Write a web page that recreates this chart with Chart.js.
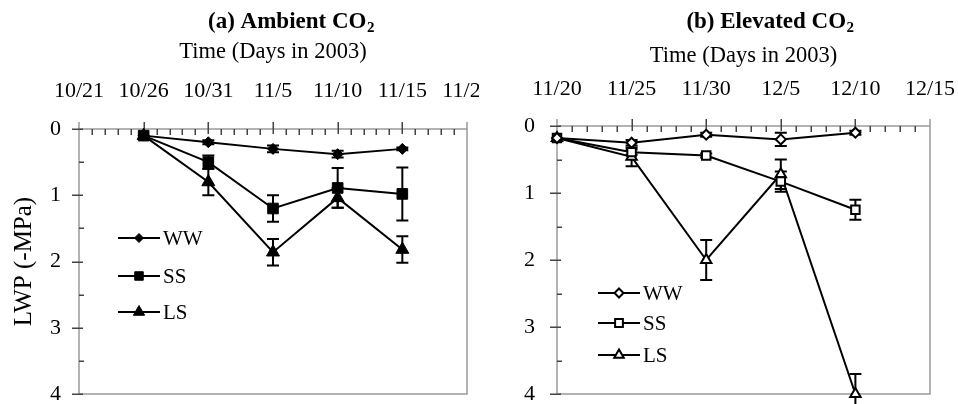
<!DOCTYPE html>
<html>
<head>
<meta charset="utf-8">
<script src="https://cdn.jsdelivr.net/npm/chart.js@4.4.1/dist/chart.umd.min.js"></script>
<style>
html,body{margin:0;padding:0;background:#fff;overflow:hidden}
#wrap{position:relative;width:958px;height:404px;background:#fff}
canvas{position:absolute;top:0}
#ca{left:0}
#cb{left:479px}
</style>
</head>
<body>
<div id="wrap">
<canvas id="ca" width="479" height="404"></canvas>
<canvas id="cb" width="479" height="404"></canvas>
</div>
<script>
// ---------- data ----------
const seriesNames = ['WW', 'SS', 'LS'];
const panelTitles = ['(a) Ambient CO', '(b) Elevated CO'];
const titleSubscript = '2';
const xAxisTitle = 'Time (Days in 2003)';
const yAxisTitle = 'LWP (-MPa)';

const tickLabelsA = ['10/21', '10/26', '10/31', '11/5', '11/10', '11/15', '11/20'];
const tickLabelsB = ['11/20', '11/25', '11/30', '12/5', '12/10', '12/15'];

// days after first tick date (10/21 for a, 11/20 for b)
const daysA = [5, 10, 15, 20, 25];
const wwA = [0.1, 0.2, 0.3, 0.38, 0.3];
const ssA = [0.1, 0.5, 1.2, 0.89, 0.98];
const lsA = [0.1, 0.8, 1.86, 1.04, 1.82];
const wwErrA = [0, 0.03, 0.05, 0.05, 0.02];
const ssErrA = [0, 0.1, 0.2, 0.3, 0.4];
const lsErrA = [0, 0.2, 0.2, 0.15, 0.2];

const daysB = [0, 5, 10, 15, 20];
const wwB = [0.18, 0.25, 0.13, 0.2, 0.1];
const ssB = [0.18, 0.39, 0.44, 0.83, 1.25];
const lsB = [0.18, 0.46, 2.0, 0.72, 4.0];
const wwErrB = [0, 0.04, 0.03, 0.1, 0.03];
const ssErrB = [0, 0.04, 0.03, 0.15, 0.15];
const lsErrB = [0, 0.14, 0.3, 0.22, 0.3];

// ---------- styling ----------
const FONT = '"Liberation Serif", "Times New Roman", serif';
const pointStyles = ['rectRot', 'rect', 'triangle'];

function drawMarker(ctx, style, cx, cy, r, fill, lw) {
  ctx.beginPath();
  if (style === 'rect') {
    const s = r * Math.SQRT1_2;
    ctx.rect(cx - s, cy - s, 2 * s, 2 * s);
  } else if (style === 'rectRot') {
    ctx.moveTo(cx, cy - r); ctx.lineTo(cx + r, cy); ctx.lineTo(cx, cy + r); ctx.lineTo(cx - r, cy);
    ctx.closePath();
  } else {
    for (let k = 0; k < 3; k++) {
      const a = k * 2 * Math.PI / 3;
      const px = cx + Math.sin(a) * r, py = cy - Math.cos(a) * r;
      if (k === 0) ctx.moveTo(px, py); else ctx.lineTo(px, py);
    }
    ctx.closePath();
  }
  ctx.fillStyle = fill; ctx.fill();
  ctx.lineWidth = lw; ctx.strokeStyle = '#000'; ctx.stroke();
}

const framePlugin = {
  id: 'frame',
  beforeDatasetsDraw(chart, args, opts) {
    const {ctx, chartArea: a, scales: {x, y}} = chart;
    ctx.save();
    // frame
    ctx.strokeStyle = '#9a9a9a';
    ctx.lineWidth = 1.5;
    ctx.beginPath();
    ctx.moveTo(a.left, a.top - 7); ctx.lineTo(a.left, a.bottom); ctx.lineTo(a.right, a.bottom);
    ctx.lineTo(a.right, a.top - 7);
    ctx.moveTo(a.left, a.top); ctx.lineTo(a.right, a.top);
    ctx.stroke();
    // x ticks: major every 5 days (crossing), minor every day (inside)
    ctx.strokeStyle = '#444';
    ctx.lineWidth = 1.5;
    ctx.beginPath();
    for (let d = x.min; d <= x.max; d++) {
      const px = Math.round(x.getPixelForValue(d)) + 0.25;
      if (d % 5 === 0) {
        if (d === x.min || d === x.max) continue;
        ctx.moveTo(px, a.top - 7); ctx.lineTo(px, a.top + 5);
      } else {
        ctx.moveTo(px, a.top); ctx.lineTo(px, a.top + 6);
      }
    }
    // y ticks: major each unit (crossing), minor each half (inside)
    for (let v = y.min; v <= y.max + 1e-9; v += 0.5) {
      const py = Math.round(y.getPixelForValue(v)) + 0.25;
      if (Math.abs(v - Math.round(v)) < 1e-9) {
        ctx.moveTo(a.left - 7, py); ctx.lineTo(a.left + 4, py);
      } else {
        ctx.moveTo(a.left, py); ctx.lineTo(a.left + 5, py);
      }
    }
    ctx.stroke();
    // error bars
    ctx.strokeStyle = '#000';
    ctx.lineWidth = 2;
    chart.data.datasets.forEach((ds) => {
      ds.errors.forEach((e, j) => {
        if (!e) return;
        const pt = ds.data[j];
        const px = x.getPixelForValue(pt.x);
        const y1 = y.getPixelForValue(pt.y - e);
        const y2 = y.getPixelForValue(pt.y + e);
        const cw = opts.cap;
        ctx.beginPath();
        ctx.moveTo(px, y1); ctx.lineTo(px, y2);
        ctx.moveTo(px - cw, y1); ctx.lineTo(px + cw, y1);
        ctx.moveTo(px - cw, y2); ctx.lineTo(px + cw, y2);
        ctx.stroke();
      });
    });
    ctx.restore();
  },
  afterDraw(chart, args, opts) {
    const {ctx} = chart;
    ctx.save();
    // panel title with subscript
    ctx.fillStyle = '#000';
    ctx.textBaseline = 'alphabetic';
    ctx.textAlign = 'left';
    ctx.font = 'bold 23px ' + FONT;
    const w1 = ctx.measureText(opts.title).width;
    ctx.font = 'bold 15px ' + FONT;
    const w2 = ctx.measureText(titleSubscript).width;
    const x0 = opts.titleX - (w1 + w2) / 2;
    ctx.font = 'bold 23px ' + FONT;
    ctx.fillText(opts.title, x0, 28);
    ctx.font = 'bold 15px ' + FONT;
    ctx.fillText(titleSubscript, x0 + w1 + 0.5, 32);
    // legend
    ctx.font = '21px ' + FONT;
    ctx.textBaseline = 'middle';
    chart.data.datasets.forEach((ds, i) => {
      const ly = opts.legendRows[i];
      ctx.strokeStyle = '#000';
      ctx.lineWidth = 2;
      ctx.beginPath();
      ctx.moveTo(opts.legendX1, ly); ctx.lineTo(opts.legendX2, ly);
      ctx.stroke();
      drawMarker(ctx, ds.pointStyle, (opts.legendX1 + opts.legendX2) / 2, ly,
        opts.legendRadii[i], ds.pointBackgroundColor, ds.pointBorderWidth);
      ctx.fillStyle = '#000';
      ctx.fillText(ds.label, opts.legendX2 + 3, ly + 1);
    });
    ctx.restore();
  }
};

function makeDatasets(days, vals, errs, filled, radii) {
  return seriesNames.map((name, i) => ({
    label: name,
    data: days.map((d, j) => ({x: d, y: vals[i][j]})),
    errors: errs[i],
    borderColor: '#000',
    borderWidth: 2,
    pointStyle: pointStyles[i],
    pointRadius: radii[i],
    pointHoverRadius: radii[i],
    pointBackgroundColor: filled ? '#000' : '#fff',
    pointBorderColor: '#000',
    pointBorderWidth: filled ? 1 : 2,
    tension: 0,
    fill: false,
    clip: false
  }));
}

function makeChart(id, p) {
  return new Chart(document.getElementById(id), {
    type: 'line',
    data: {datasets: makeDatasets(p.days, p.vals, p.errs, p.filled, p.radii)},
    options: {
      responsive: false,
      animation: false,
      events: [],
      layout: {padding: {left: 0, right: p.padRight, top: 0, bottom: 10}},
      plugins: {
        legend: {display: false},
        tooltip: {enabled: false},
        title: {display: false},
        frame: {
          title: p.title, titleX: 291, cap: p.cap,
          legendX1: p.legendX1, legendX2: p.legendX2,
          legendRows: p.legendRows, legendRadii: p.legendRadii
        }
      },
      scales: {
        x: {
          type: 'linear', position: 'top', min: 0, max: p.xmax,
          grid: {display: false, drawTicks: false},
          border: {display: false},
          ticks: {
            stepSize: 5, autoSkip: false, maxRotation: 0, padding: p.xTickPad,
            color: '#000', font: {family: FONT, size: 22},
            callback: (v) => p.labels[Math.round(v / 5)]
          },
          title: {
            display: true, text: xAxisTitle, color: '#000',
            font: {family: FONT, size: 22.5}, padding: {top: p.xTitlePad, bottom: 0}
          },
          afterFit(s) { s.height = p.xh; s.paddingLeft = 0; s.paddingRight = 0; }
        },
        y: {
          type: 'linear', reverse: true, min: 0, max: 4,
          grid: {display: false, drawTicks: false},
          border: {display: false},
          ticks: {
            stepSize: 1, padding: p.yTickPad, color: '#000',
            font: {family: FONT, size: 22}
          },
          title: {
            display: p.yTitle, text: yAxisTitle, color: '#000',
            font: {family: FONT, size: 25}, padding: {top: 9, bottom: 0}
          },
          afterFit(s) { s.width = p.yw; s.paddingTop = 0; s.paddingBottom = 0; }
        }
      }
    },
    plugins: [framePlugin]
  });
}

makeChart('ca', {
  days: daysA, vals: [wwA, ssA, lsA], errs: [wwErrA, ssErrA, lsErrA],
  filled: true, radii: [5.5, 7.5, 7.5], labels: tickLabelsA, xmax: 30,
  padRight: 12, xh: 129, yw: 79, xTickPad: 25, xTitlePad: 39, yTickPad: 18, yTitle: true,
  title: panelTitles[0], cap: 6,
  legendX1: 118, legendX2: 160, legendRows: [238, 276, 312], legendRadii: [4.5, 6, 6.5]
});
makeChart('cb', {
  days: daysB, vals: [wwB, ssB, lsB], errs: [wwErrB, ssErrB, lsErrB],
  filled: false, radii: [5, 6, 6], labels: tickLabelsB, xmax: 25,
  padRight: 28, xh: 126, yw: 78, xTickPad: 24, xTitlePad: 43, yTickPad: 22, yTitle: false,
  title: panelTitles[1], cap: 6,
  legendX1: 119, legendX2: 161, legendRows: [293, 323, 355], legendRadii: [4.5, 5.5, 5.5]
});
</script>
</body>
</html>
